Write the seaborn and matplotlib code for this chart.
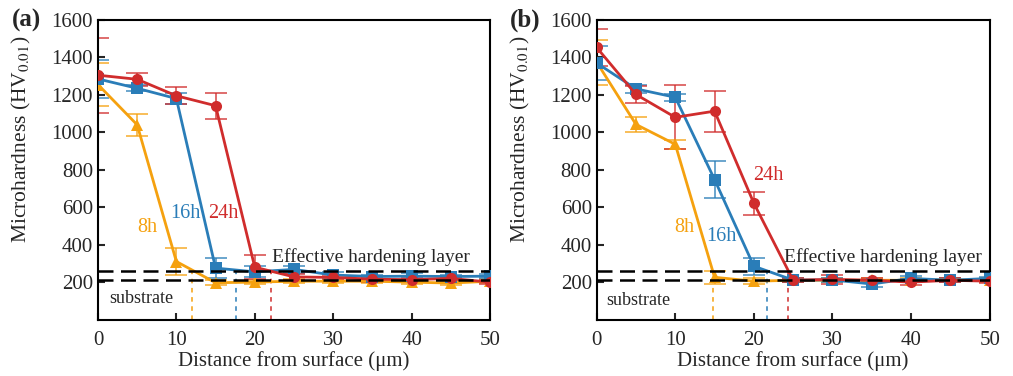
import numpy as np
import pandas as pd
import matplotlib
matplotlib.use('Agg')
import matplotlib.pyplot as plt
import seaborn as sns

# Data (depth in um, hardness HV0.01)
depth = [0, 5, 10, 15, 20, 25, 30, 35, 40, 45, 50]
groups = ['8h', '16h', '24h']

a_8h = [1255, 1040, 310, 197, 200, 205, 205, 205, 200, 195, 205]
a_8h_err = [115, 60, 70, 12, 10, 10, 10, 10, 10, 10, 10]
a_16h = [1285, 1235, 1180, 275, 255, 268, 238, 230, 232, 230, 232]
a_16h_err = [100, 15, 30, 55, 30, 20, 15, 10, 15, 10, 10]
a_24h = [1305, 1283, 1195, 1142, 280, 228, 225, 216, 213, 220, 200]
a_24h_err = [200, 35, 45, 70, 65, 15, 15, 15, 10, 10, 10]

b_8h = [1375, 1042, 936, 226, 205, 210, 210, 210, 210, 212, 210]
b_8h_err = [120, 40, 25, 35, 15, 10, 10, 10, 10, 10, 10]
b_16h = [1370, 1232, 1187, 748, 285, 211, 212, 190, 220, 210, 220]
b_16h_err = [90, 20, 20, 100, 45, 10, 10, 15, 15, 10, 10]
b_24h = [1453, 1202, 1080, 1113, 621, 210, 215, 210, 200, 210, 205]
b_24h_err = [100, 45, 170, 110, 60, 10, 25, 10, 15, 10, 10]

effective_level = 262
substrate_level = 212
a_depths = {'8h': 12.0, '16h': 17.6, '24h': 22.1}
b_depths = {'8h': 14.8, '16h': 21.7, '24h': 24.4}

colors = {'8h': '#F5A10F', '16h': '#2A7DB8', '24h': '#D02C2C'}
markers = {'8h': '^', '16h': 's', '24h': 'o'}

sns.set_theme(style='ticks')
plt.rcParams['font.family'] = ['Liberation Serif', 'DejaVu Serif']
plt.rcParams['mathtext.fontset'] = 'stix'
plt.rcParams['axes.linewidth'] = 1.5


def long_df(v8, v16, v24, e8, e16, e24):
    rows = []
    for g, vals, errs in zip(groups, [v8, v16, v24], [e8, e16, e24]):
        for d, v, e in zip(depth, vals, errs):
            rows.append({'depth': d, 'hv': v, 'err': e, 'time': g})
    return pd.DataFrame(rows)


df_a = long_df(a_8h, a_16h, a_24h, a_8h_err, a_16h_err, a_24h_err)
df_b = long_df(b_8h, b_16h, b_24h, b_8h_err, b_16h_err, b_24h_err)

fig = plt.figure(figsize=(10.13, 3.76), dpi=100)
ax_a = fig.add_axes([0.0967, 0.150, 0.387, 0.797])
ax_b = fig.add_axes([0.589, 0.150, 0.388, 0.797])


def draw(ax, df, depths, labels, eff_x, sub_x, sub_y):
    for g in groups:
        sub = df[df['time'] == g]
        ax.errorbar(sub['depth'], sub['hv'], yerr=sub['err'], fmt='none',
                    ecolor=colors[g], alpha=0.75, elinewidth=1.3,
                    capsize=8, capthick=1.3, zorder=2)
    sns.lineplot(data=df, x='depth', y='hv', hue='time', style='time',
                 palette=colors, markers=markers, dashes=False,
                 markersize=8, linewidth=2, markeredgewidth=0,
                 legend=False, ax=ax, zorder=3)
    ax.axhline(effective_level, color='black', ls=(0, (6, 3)), lw=1.8, zorder=4)
    ax.axhline(substrate_level, color='black', ls=(0, (6, 3)), lw=1.8, zorder=4)
    for g in groups:
        ax.plot([depths[g], depths[g]], [0, effective_level - 10],
                color=colors[g], ls=(0, (3, 3)), lw=1.1, zorder=2)
    for g in groups:
        x, y = labels[g]
        ax.text(x, y, g, color=colors[g], fontsize=14.5, ha='center', va='center')
    ax.text(eff_x, 332, 'Effective hardening layer', fontsize=14,
            ha='left', va='center')
    ax.text(sub_x, sub_y, 'substrate', fontsize=13, ha='left', va='center')

    ax.set_xlim(0, 50)
    ax.set_ylim(0, 1600)
    ax.set_xticks(range(0, 51, 10))
    ax.set_yticks(range(200, 1601, 200))
    ax.tick_params(direction='in', length=5, width=1.5, labelsize=15,
                   top=False, right=False)
    ax.tick_params(axis='x', pad=8)
    ax.set_xlabel('Distance from surface (μm)', fontsize=15, labelpad=1)
    ax.set_ylabel('Microhardness (HV$_{0.01}$)', fontsize=15.5)
    ax.yaxis.set_label_coords(-0.165, 0.60)
    for s in ax.spines.values():
        s.set_visible(True)
        s.set_color('black')


draw(ax_a, df_a, a_depths,
     {'8h': (6.3, 490), '16h': (11.1, 568), '24h': (16.0, 568)},
     22.2, 1.4, 115)
draw(ax_b, df_b, b_depths,
     {'8h': (11.1, 493), '16h': (15.9, 445), '24h': (21.8, 771)},
     23.8, 1.2, 104)

fig.text(0.012, 0.945, '(a)', fontsize=18, fontweight='bold', va='center')
fig.text(0.503, 0.945, '(b)', fontsize=18, fontweight='bold', va='center')

fig.savefig('out.png', dpi=100)
